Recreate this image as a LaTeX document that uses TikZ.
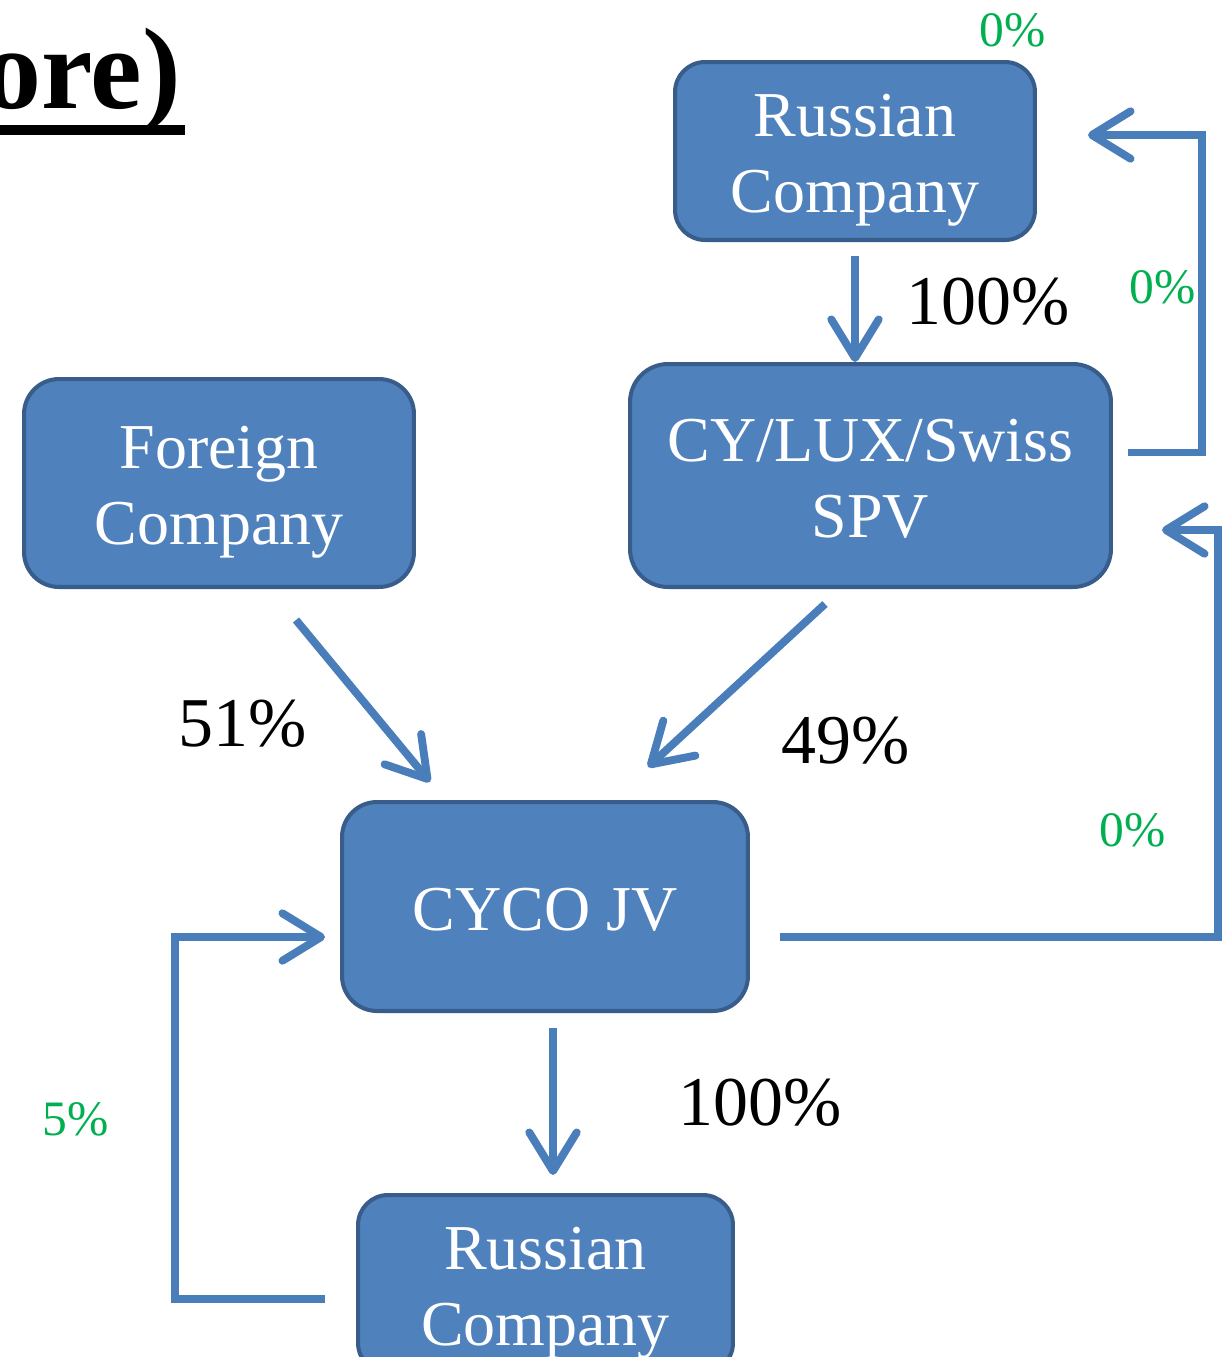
\documentclass[tikz,border=0pt]{standalone}
\usepackage{fontspec}
\setmainfont{Liberation Serif}
\usetikzlibrary{arrows.meta,calc}
\definecolor{boxfill}{HTML}{4F81BD}
\definecolor{boxline}{HTML}{385D8A}
\definecolor{arrowc}{HTML}{4A7EBB}
\definecolor{pctgreen}{HTML}{00B050}
\newcommand\hiline{\rule{0pt}{35pt}}
\newcommand\loline{\rule[-8pt]{0pt}{8pt}}
\begin{document}
\begin{tikzpicture}[x=0.02cm,y=-0.02cm,
  entity/.style={draw=boxline, fill=boxfill, line width=2.3pt, text=white,
    align=center, inner sep=0pt, font=\fontsize{36.4}{43}\selectfont},
  arr/.style={draw=arrowc, line width=4.5pt,
    -{Straight Barb[length=22pt,width=27pt,round]}},
  pct/.style={anchor=base west, inner sep=0pt, font=\fontsize{39.8}{44}\selectfont},
  gpct/.style={anchor=base west, inner sep=0pt, text=pctgreen,
    font=\fontsize{28.2}{32}\selectfont}]
\useasboundingbox (0,0) rectangle (1223,1357);
\clip (0,0) rectangle (1223,1357);

% title fragment
\node[anchor=base east, inner sep=0pt, font=\bfseries\fontsize{66}{70}\selectfont]
  (title) at (181,108) {ore)};
\fill (0,125) rectangle (185,135);

% boxes
\node[entity, minimum width=7.2cm, minimum height=3.56cm, rounded corners=0.6cm]
  (rc1) at (855,151) {\hiline Russian\\Company\loline};
\node[entity, minimum width=9.62cm, minimum height=4.46cm, rounded corners=0.76cm]
  (spv) at (870.5,475.5) {\hiline CY/LUX/Swiss\\SPV\loline};
\node[entity, minimum width=7.8cm, minimum height=4.16cm, rounded corners=0.7cm]
  (fc) at (219,483) {\hiline Foreign\\Company\loline};
\node[entity, minimum width=8.12cm, minimum height=4.18cm, rounded corners=0.7cm]
  (jv) at (545,906.5) {\hiline CYCO JV\loline};
\node[entity, minimum width=7.5cm, minimum height=3.56cm, rounded corners=0.6cm]
  (rc2) at (545.5,1284) {\hiline Russian\\Company\loline};

% straight arrows
\draw[arr] ($(rc1.south)+(0,14)$) -- (rc1.south |- spv.north);
\draw[arr] ($(fc.south)+(77,31)$) -- ($(jv.north)+(-115,-18)$);
\draw[arr] ($(spv.south)+(-45.5,15)$) -- ($(jv.north)+(103,-33)$);
\draw[arr] ($(jv.south)+(8,15)$) -- ($(rc2.north)+(7.5,-18)$);

% elbow arrows
\draw[arr] ($(spv.east)+(15,-23)$) -- ++(74,0) |- ($(rc1.east)+(51,-16)$);
\draw[arr] ($(jv.east)+(30,30.5)$) -- ++(438,0) |- ($(spv.east)+(49,54.5)$);
\draw[arr] ($(rc2.west)+(-31,15)$) -- ++(-150,0) |- ($(jv.west)+(-15,30.5)$);

% percentages
\node[pct] (p1) at (906,324) {100\%};
\node[pct] (p2) at (178,746) {51\%};
\node[pct] (p3) at (781,763) {49\%};
\node[pct] (p4) at (678,1125) {100\%};
\node[gpct] (g1) at (979,46) {0\%};
\node[gpct] (g2) at (1129,303) {0\%};
\node[gpct] (g3) at (1099,846) {0\%};
\node[gpct] (g4) at (42,1135) {5\%};
\end{tikzpicture}
\end{document}
